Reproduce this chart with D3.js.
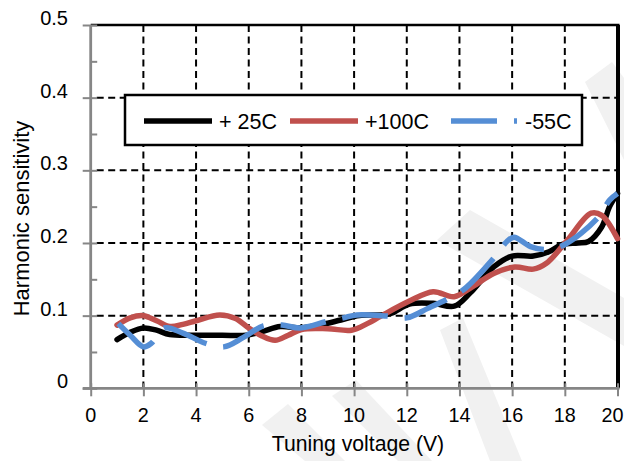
<!DOCTYPE html>
<html>
<head>
<meta charset="utf-8">
<script src="https://cdn.jsdelivr.net/npm/d3@7"></script>
<style>
  html, body { margin: 0; padding: 0; background: #fff; }
  svg { display: block; }
  text { font-family: "Liberation Sans", Arial, sans-serif; fill: #000; }
</style>
</head>
<body>
<svg id="chart" width="624" height="461"></svg>
<script>
// ---------- data ----------
const xTickValues = [0, 2, 4, 6, 8, 10, 12, 14, 16, 18, 20];
const yTickValues = [0, 0.1, 0.2, 0.3, 0.4, 0.5];
const yTickLabels = ["0", "0.1", "0.2", "0.3", "0.4", "0.5"];
const seriesNames = ["+ 25C", "+100C", "-55C"];

const volt25 = [1, 1.5, 2, 2.5, 3, 4, 5, 5.9, 6.5, 7.2, 8, 8.8, 9.5, 10.2, 11, 11.4, 12.1, 13, 13.8, 14.4, 15.3, 16, 16.8, 17.4, 17.9, 18.5, 18.9, 19.4, 19.7, 20];
const sens25 = [0.067, 0.077, 0.083, 0.080, 0.074, 0.073, 0.073, 0.073, 0.078, 0.085, 0.083, 0.088, 0.094, 0.100, 0.101, 0.103, 0.116, 0.117, 0.113, 0.131, 0.167, 0.182, 0.182, 0.188, 0.198, 0.200, 0.202, 0.222, 0.250, 0.268];

const volt100 = [1, 1.5, 2, 2.5, 3, 3.5, 4, 4.9, 5.5, 6, 6.5, 7, 7.5, 8, 9, 9.9, 10.5, 11, 12.1, 13, 13.8, 14.5, 15.3, 16.1, 16.8, 17.3, 18.1, 19, 19.4, 20];
const sens100 = [0.087, 0.097, 0.100, 0.093, 0.085, 0.088, 0.093, 0.101, 0.096, 0.083, 0.072, 0.066, 0.073, 0.081, 0.082, 0.080, 0.089, 0.099, 0.120, 0.133, 0.126, 0.140, 0.158, 0.167, 0.164, 0.172, 0.204, 0.241, 0.238, 0.206];

const voltM55 = [1.05, 1.5, 2, 2.3, 2.8, 3.5, 4.35, 5.05, 5.8, 6.56, 7.26, 7.96, 8.97, 9.6, 10.1, 11.25, 12.0, 12.8, 13.6, 14.2, 15.3, 15.8, 16.07, 16.7, 17.3, 18, 19.24, 19.7, 20];
const sensM55 = [0.089, 0.073, 0.057, 0.062, 0.083, 0.076, 0.062, 0.057, 0.070, 0.086, 0.087, 0.083, 0.092, 0.097, 0.101, 0.0995, 0.097, 0.110, 0.124, 0.137, 0.179, 0.202, 0.208, 0.195, 0.191, 0.198, 0.234, 0.259, 0.268];

// ---------- styles ----------
const colors = ["#000000", "#C0504D", "#558ED5"];
const dashes = [null, null, "46,17"];
const lineW = 5.5;

const series = [
  { name: seriesNames[0], pts: volt25.map((v, i) => [v, sens25[i]]), color: colors[0], dash: dashes[0] },
  { name: seriesNames[1], pts: volt100.map((v, i) => [v, sens100[i]]), color: colors[1], dash: dashes[1] },
  { name: seriesNames[2], pts: voltM55.map((v, i) => [v, sensM55[i]]), color: colors[2], dash: dashes[2] }
];

const svg = d3.select("#chart");
const L = 90.7, R = 617.5, T = 25, B = 388.3;
const x = d3.scaleLinear().domain([0, 20]).range([L, R]);
const y = d3.scaleLinear().domain([0, 0.5]).range([B, T]);

// ---------- faint watermark (background decoration) ----------
const wm = svg.append("g").attr("fill", "#f1f1f1");
const wmShapes = [
  [[437, 240], [470, 210], [624, 298], [624, 346]],
  [[440, 330], [463, 318], [522, 461], [490, 461]],
  [[585, 82], [612, 62], [624, 78], [624, 160]],
  [[262, 425], [288, 404], [345, 461], [305, 461]],
  [[332, 396], [356, 380], [432, 461], [398, 461]]
];
wmShapes.forEach(p => wm.append("polygon").attr("points", p.map(d => d.join(",")).join(" ")));

// ---------- gridlines ----------
const grid = svg.append("g").attr("stroke", "#000").attr("stroke-width", 2)
  .attr("stroke-dasharray", "7,4.5").attr("fill", "none");
xTickValues.filter(v => v > 0 && v < 20).forEach(v => {
  grid.append("line").attr("x1", x(v)).attr("x2", x(v)).attr("y1", T).attr("y2", B);
});
yTickValues.filter(v => v > 0 && v < 0.5).forEach(v => {
  grid.append("line").attr("x1", L + 6).attr("x2", R).attr("y1", y(v)).attr("y2", y(v));
});

// ---------- frame (top & right) ----------
svg.append("line").attr("x1", L).attr("x2", R + 2).attr("y1", T).attr("y2", T)
  .attr("stroke", "#000").attr("stroke-width", 2.5);
svg.append("line").attr("x1", R + 0.5).attr("x2", R + 0.5).attr("y1", T).attr("y2", B)
  .attr("stroke", "#000").attr("stroke-width", 4);

// ---------- axes ----------
const axisColor = "#868686";
const yAxisG = svg.append("g").attr("transform", `translate(${L},0)`)
  .call(d3.axisLeft(y).tickValues(yTickValues).tickSize(8).tickFormat(""));
const yMinor = svg.append("g").attr("transform", `translate(${L},0)`)
  .call(d3.axisRight(y).tickValues(d3.range(0, 0.5001, 0.05)).tickSize(6.5).tickFormat(""));
const xAxisG = svg.append("g").attr("transform", `translate(0,${B})`)
  .call(d3.axisBottom(x).tickValues(xTickValues).tickSize(8).tickFormat(""));
const xUp = svg.append("g").attr("transform", `translate(0,${B})`)
  .call(d3.axisTop(x).tickValues(xTickValues).tickSize(5).tickFormat(""));
[yAxisG, yMinor, xAxisG, xUp].forEach(g => {
  g.selectAll("path").attr("stroke", axisColor).attr("stroke-width", 2.8);
  g.selectAll("line").attr("stroke", axisColor).attr("stroke-width", 2);
});
yMinor.select("path").remove();
xUp.select("path").remove();
yAxisG.select("path").attr("d", `M0,${T}V${B}`);
xAxisG.select("path").attr("d", `M${L - 8},0H${R + 2}`);

// tick labels
svg.append("g").selectAll("text").data(yTickValues).join("text")
  .attr("x", 68).attr("y", d => y(d)).attr("text-anchor", "end")
  .attr("font-size", 20).text((d, i) => yTickLabels[i]);
svg.append("g").selectAll("text").data(xTickValues).join("text")
  .attr("x", d => d === 20 ? 623.5 : x(d))
  .attr("y", 421.5)
  .attr("text-anchor", d => d === 20 ? "end" : "middle")
  .attr("font-size", 19.8).text(d => d);

// axis titles
svg.append("text").attr("x", 358).attr("y", 451).attr("text-anchor", "middle")
  .attr("font-size", 21.2).text("Tuning voltage (V)");
svg.append("text").attr("transform", "translate(28.5,218.5) rotate(-90)")
  .attr("text-anchor", "middle").attr("font-size", 22).text("Harmonic sensitivity");

// ---------- series ----------
const line = d3.line().x(d => x(d[0])).y(d => y(d[1])).curve(d3.curveCatmullRom.alpha(0.5));
const linesG = svg.append("g").attr("fill", "none");
series.forEach(s => {
  linesG.append("path").attr("d", line(s.pts)).attr("stroke", s.color)
    .attr("stroke-width", lineW).attr("stroke-linejoin", "round")
    .attr("stroke-linecap", s.dash ? "butt" : "round")
    .attr("stroke-dasharray", s.dash);
});

// ---------- legend ----------
const lg = svg.append("g");
lg.append("rect").attr("x", 125).attr("y", 95).attr("width", 457).attr("height", 50)
  .attr("fill", "#fff").attr("stroke", "#000").attr("stroke-width", 2.5);
const legendX = [[144, 212, 219], [290, 358, 365], [451, 517, 525]];
series.forEach((s, i) => {
  const [x1, x2, tx] = legendX[i];
  lg.append("line").attr("x1", x1).attr("x2", x2).attr("y1", 121).attr("y2", 121)
    .attr("stroke", s.color).attr("stroke-width", lineW).attr("stroke-dasharray", s.dash);
  lg.append("text").attr("x", tx).attr("y", 129).attr("font-size", 21.5).text(s.name);
});
</script>
</body>
</html>
